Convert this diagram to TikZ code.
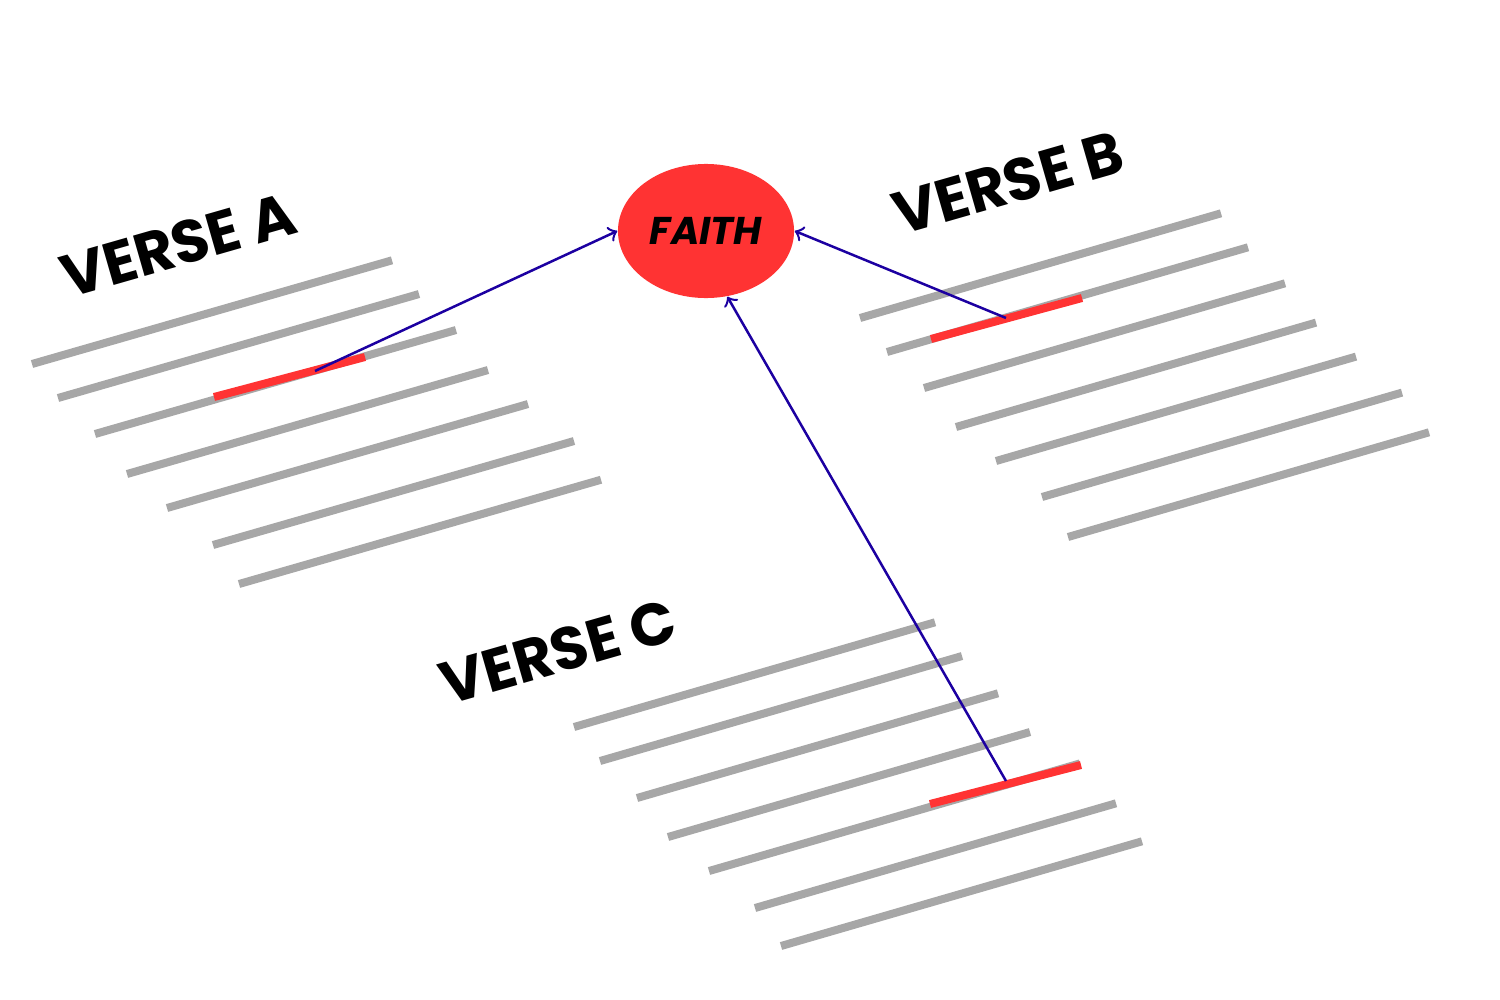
\documentclass[tikz,border=0pt]{standalone}
\usepackage{fontspec}
\setmainfont{Poppins}
\usetikzlibrary{shapes.geometric}
\definecolor{grey}{rgb}{0.655, 0.655, 0.655}
\definecolor{red}{rgb}{1, 0.2, 0.2}
\definecolor{blue}{rgb}{0.11, 0.0, 0.63}
\begin{document}
\begin{tikzpicture}[x=0.01cm,y=-0.01cm]
        \useasboundingbox (0,0) rectangle (1500,1000);
        \tikzset{textline/.style={draw=grey,line width=0.08cm},
                 mark line/.style={draw=red,line width=0.08cm},
                 link/.style={draw=blue,line width=0.025cm,->},
                 title/.style={font=\fontsize{17}{17}\selectfont\bfseries,rotate=16}}

        % verse A
        \foreach \x/\y/\l in {32/364/360,58/398/361,95/434/361,127/474/361,167/508/361,213/545/361,239/584/362}{
            \draw[textline] (\x,\y) -- ++(\l,-0.288*\l);
        }
        % verse B
        \foreach \x/\y/\l in {860/318/361,887/352/361,924/388/361,956/427/360,996/461/360,1042/497/360,1068/537/361}{
            \draw[textline] (\x,\y) -- ++(\l,-0.29*\l);
        }
        % verse C
        \foreach \x/\y/\l in {574/727/361,600/761/362,637/798/361,668/837/362,709/871/371,755/908/361,781/946/361}{
            \draw[textline] (\x,\y) -- ++(\l,-0.29*\l);
        }

        % marked words
        \draw[mark line] (214,397) -- (365,357);
        \draw[mark line] (931,339) -- (1082,298);
        \draw[mark line] (930,804) -- (1081,765);
        \coordinate (wordA) at (315,371);
        \coordinate (wordB) at (1006,318);
        \coordinate (wordC) at (1006,781);

        \node[title] (verseA) at (178,245) {VERSE A};
        \node[title] (verseB) at (1008,183) {VERSE B};
        \node[title] (verseC) at (558,652) {VERSE C};

        \node[draw=none,fill=red,ellipse,minimum width=1.76cm,minimum height=1.34cm,inner sep=0pt,
              font=\fontsize{11}{11}\selectfont\bfseries\itshape] (faith) at (706,231) {FAITH};

        \draw[link] (wordA) -- (faith.west);
        \draw[link] (wordB) -- (faith.east);
        \draw[link] (wordC) -- (faith.-72);
    \end{tikzpicture}
\end{document}
